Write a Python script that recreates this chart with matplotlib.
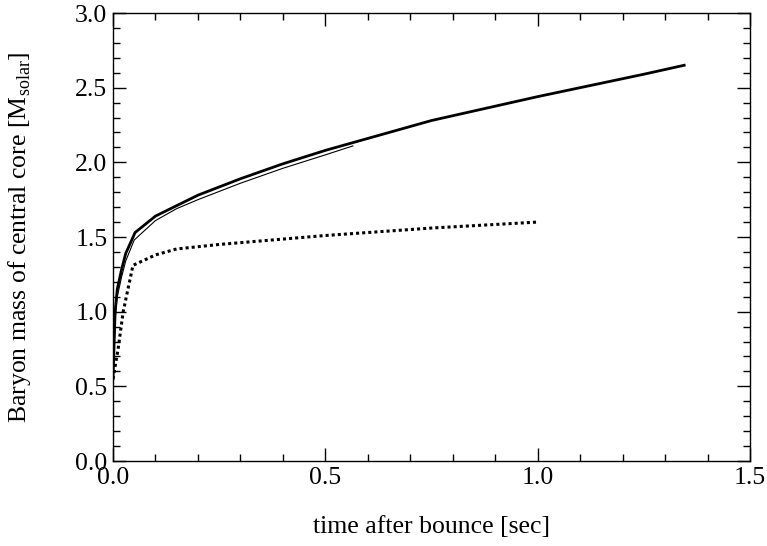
import matplotlib.pyplot as plt
from matplotlib.ticker import MultipleLocator

plt.rcParams['font.family'] = 'Liberation Serif'
plt.rcParams['mathtext.fontset'] = 'custom'
plt.rcParams['mathtext.rm'] = 'Liberation Serif'

# thick solid curve
t_thick = [0.0, 0.005, 0.01, 0.02, 0.03, 0.052, 0.1, 0.15, 0.2, 0.3, 0.4, 0.5, 0.75, 1.0, 1.25, 1.345]
m_thick = [0.55, 1.0, 1.15, 1.28, 1.39, 1.53, 1.64, 1.71, 1.78, 1.89, 1.99, 2.08, 2.28, 2.44, 2.59, 2.65]

# thin solid curve
t_thin = [0.0, 0.005, 0.01, 0.02, 0.03, 0.05, 0.1, 0.15, 0.2, 0.3, 0.4, 0.5, 0.565]
m_thin = [0.55, 0.95, 1.1, 1.23, 1.34, 1.48, 1.61, 1.69, 1.75, 1.86, 1.96, 2.05, 2.11]

# dotted curve
t_dot = [0.0, 0.012, 0.024, 0.047, 0.1, 0.15, 0.25, 0.5, 0.75, 1.0]
m_dot = [0.55, 0.75, 1.0, 1.31, 1.38, 1.42, 1.45, 1.51, 1.56, 1.60]

fig = plt.figure(figsize=(7.67, 5.46), dpi=100)
ax = fig.add_axes([113/767, 1-461/546, 637/767, 448/546])

ax.plot(t_thick, m_thick, color='black', lw=2.0)
ax.plot(t_thin, m_thin, color='black', lw=0.8)
ax.plot(t_dot, m_dot, color='black', lw=2.2, linestyle=(0, (1, 1)))

ax.set_xlim(0, 1.5)
ax.set_ylim(0, 3.0)
ax.xaxis.set_major_locator(MultipleLocator(0.5))
ax.xaxis.set_minor_locator(MultipleLocator(0.1))
ax.yaxis.set_major_locator(MultipleLocator(0.5))
ax.yaxis.set_minor_locator(MultipleLocator(0.1))
ax.xaxis.set_major_formatter(lambda v, p: f'{v:.1f}')
ax.yaxis.set_major_formatter(lambda v, p: f'{v:.1f}')
ax.tick_params(which='both', direction='in', top=True, right=True, labelsize=18.5, width=1)
ax.tick_params(which='major', length=9.5)
ax.tick_params(which='minor', length=5)
ax.tick_params(axis='x', pad=4)
ax.tick_params(axis='y', pad=4)
for s in ax.spines.values():
    s.set_linewidth(1)

ax.set_xlabel('time after bounce [sec]', fontsize=18.5, va='center')
ax.set_ylabel(r'Baryon mass of central core [M$_{\rm solar}$]', fontsize=18.5, va='center')
ax.xaxis.set_label_coords(0.5, -0.147)
ax.yaxis.set_label_coords(-0.146, 0.5)

fig.savefig('out.png', dpi=100)
